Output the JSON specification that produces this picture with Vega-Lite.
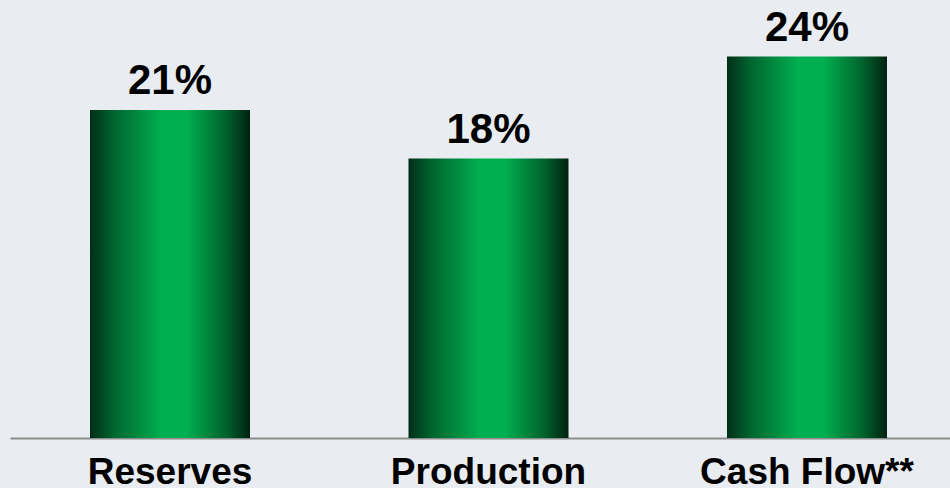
{
  "$schema": "https://vega.github.io/schema/vega-lite/v6.json",
  "width": 940,
  "height": 438,
  "autosize": "none",
  "padding": {"left": 10, "top": 0, "right": 0, "bottom": 50},
  "background": "#e9edf1",
  "config": {"view": {"stroke": null}, "font": "Liberation Sans"},
  "data": {"values": [
    {"category": "Reserves", "value": 20.9, "label": "21%"},
    {"category": "Production", "value": 17.8, "label": "18%"},
    {"category": "Cash Flow**", "value": 24.3, "label": "24%"}
  ]},
  "encoding": {
    "x": {"field": "category", "type": "nominal", "sort": null,
      "scale": {"paddingInner": 0.4976, "paddingOuter": 0.2245, "align": 0.5594},
      "axis": {"title": null, "ticks": false, "grid": false, "domainColor": "#8c8c8c", "domainWidth": 2,
        "labelFontSize": 37, "labelFontWeight": "bold", "labelColor": "#000000", "labelBaseline": "alphabetic", "labelPadding": 45, "labelAngle": 0, "labelLimit": 0, "labelOverlap": false}},
    "y": {"field": "value", "type": "quantitative", "scale": {"domain": [0, 27.9], "nice": false}, "axis": null}
  },
  "layer": [
    {"mark": {"type": "bar", "color": {"gradient": "linear", "x1": 0, "x2": 1, "y1": 0, "y2": 0,
      "stops": [
        {"offset": 0, "color": "#002e18"},
        {"offset": 0.15, "color": "#00662f"},
        {"offset": 0.45, "color": "#00b050"},
        {"offset": 0.6, "color": "#00b050"},
        {"offset": 0.85, "color": "#00622d"},
        {"offset": 1, "color": "#002210"}
      ]}}},
    {"mark": {"type": "text", "baseline": "alphabetic", "dy": -16, "fontSize": 42, "fontWeight": "bold", "color": "#000000"},
      "encoding": {"text": {"field": "label"}}}
  ]
}
